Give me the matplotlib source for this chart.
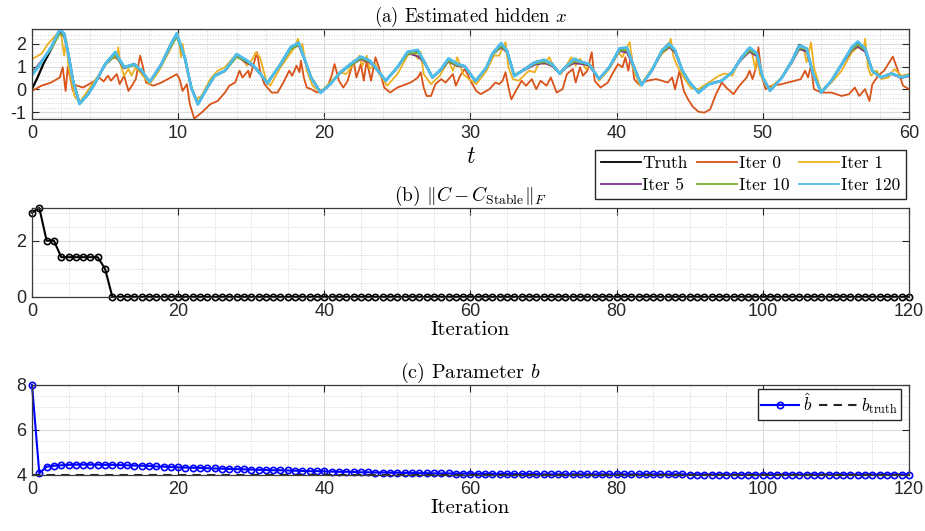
import numpy as np
import matplotlib
matplotlib.use('Agg')
import matplotlib.pyplot as plt
from matplotlib.ticker import MultipleLocator

plt.rcParams['mathtext.fontset'] = 'cm'
plt.rcParams['axes.unicode_minus'] = False
plt.rcParams['font.family'] = 'Liberation Sans'

# ---- (a) hidden state estimates ----
t_est = [0.0, 0.4, 0.8, 1.3, 1.9, 2.2, 2.45, 2.8, 3.25, 3.8, 4.3, 5.0, 5.7, 6.3, 7.0, 7.5, 8.05, 8.85, 9.4, 9.9,
         10.45, 10.9, 11.35, 12.0, 12.5, 13.2, 14.0, 14.6, 15.15, 15.6, 16.1, 17.0, 17.7, 18.25, 18.6, 19.1, 19.75,
         20.4, 21.1, 21.8, 22.5, 23.1, 23.4, 24.2, 25.0, 25.7, 26.4, 26.8, 27.4, 28.0, 28.5, 29.1, 29.6,
         30.35, 31.1, 31.5, 32.1, 32.5, 33.0, 33.7, 34.4, 35.05, 35.6, 36.1, 36.6, 37.1, 37.5, 38.1, 38.8, 39.5,
         40.2, 40.7, 41.2, 41.7, 42.4, 43.1, 43.6, 44.0, 44.5, 45.0, 45.6, 46.3, 47.2, 47.9, 48.55, 49.1, 49.6,
         50.0, 50.5, 51.3, 52.0, 52.5, 53.0, 53.45, 54.0, 54.7, 55.4, 56.1, 56.5, 57.0, 57.5, 58.1, 58.8, 59.5, 60.0]

x_truth = [0.02, 0.55, 1.15, 1.75, 2.62, 2.45, 1.70, 0.40, -0.63, -0.25, 0.25, 1.11, 1.63, 0.97, 1.11, 0.82, 0.30, 1.11, 1.85, 2.44,
           1.41, 0.08, -0.65, 0.08, 0.60, 0.82, 1.50, 1.30, 1.05, 0.70, 0.26, 1.11, 1.85, 2.03, 1.41, 0.52, -0.14,
           0.23, 0.75, 1.11, 1.41, 1.26, 1.04, 0.38, 0.97, 1.63, 1.70, 1.26, 0.52, 0.89, 1.34, 1.11, 1.02,
           0.35, 0.97, 1.56, 2.02, 1.70, 0.60, 0.89, 1.19, 1.29, 1.11, 0.70, 1.04, 1.34, 1.23, 1.11, 0.45, 0.97,
           1.78, 1.82, 0.97, 0.19, 0.82, 1.70, 2.02, 1.70, 0.82, 0.30, -0.14, 0.23, 0.38, 0.75, 1.41, 1.78, 1.56,
           0.52, -0.06, 0.52, 1.26, 1.95, 1.78, 0.67, -0.14, 0.38, 1.11, 1.85, 2.07, 1.78, 0.82, 0.52, 0.70, 0.52, 0.64]

x_iter5 = [0.75, 1.05, 1.38, 1.78, 2.50, 2.30, 1.65, 0.42, -0.60, -0.22, 0.27, 1.08, 1.48, 0.92, 1.08, 0.78, 0.33, 1.08, 1.78, 2.35,
           1.38, 0.08, -0.62, 0.09, 0.58, 0.80, 1.45, 1.20, 1.00, 0.68, 0.30, 1.08, 1.80, 1.92, 1.38, 0.52, -0.13,
           0.24, 0.73, 1.06, 1.32, 1.18, 1.00, 0.38, 0.95, 1.58, 1.45, 1.20, 0.53, 0.86, 1.22, 1.02, 1.00,
           0.38, 0.95, 1.52, 1.85, 1.62, 0.60, 0.85, 1.08, 1.15, 1.02, 0.70, 0.98, 1.15, 1.12, 1.05, 0.46, 0.95,
           1.68, 1.62, 0.96, 0.20, 0.80, 1.62, 1.85, 1.62, 0.82, 0.30, -0.12, 0.23, 0.38, 0.76, 1.32, 1.65, 1.45,
           0.52, -0.04, 0.50, 1.18, 1.78, 1.65, 0.68, -0.12, 0.38, 1.06, 1.72, 1.88, 1.65, 0.82, 0.52, 0.68, 0.50, 0.58]

x_iter10 = [0.72, 1.00, 1.35, 1.75, 2.45, 2.35, 1.70, 0.45, -0.58, -0.20, 0.28, 1.05, 1.50, 0.95, 1.05, 0.82, 0.35, 1.08, 1.75, 2.30,
            1.40, 0.10, -0.60, 0.10, 0.58, 0.80, 1.42, 1.25, 1.02, 0.70, 0.32, 1.05, 1.75, 1.95, 1.42, 0.55, -0.12,
            0.25, 0.72, 1.05, 1.35, 1.22, 1.02, 0.40, 0.95, 1.55, 1.60, 1.22, 0.55, 0.88, 1.25, 1.05, 1.02,
            0.40, 0.95, 1.50, 1.90, 1.65, 0.62, 0.88, 1.12, 1.20, 1.05, 0.72, 1.00, 1.22, 1.18, 1.08, 0.48, 0.95,
            1.70, 1.72, 0.98, 0.22, 0.82, 1.62, 1.90, 1.68, 0.85, 0.32, -0.10, 0.24, 0.40, 0.78, 1.35, 1.70, 1.52,
            0.55, -0.02, 0.52, 1.20, 1.82, 1.75, 0.70, -0.10, 0.40, 1.08, 1.75, 1.95, 1.72, 0.85, 0.55, 0.70, 0.52, 0.60]

x_iter120 = [0.62, 0.95, 1.35, 1.85, 2.63, 2.45, 1.68, 0.38, -0.64, -0.25, 0.26, 1.10, 1.64, 0.98, 1.10, 0.84, 0.32, 1.10, 1.84, 2.46,
             1.42, 0.06, -0.66, 0.08, 0.60, 0.82, 1.55, 1.32, 1.05, 0.71, 0.27, 1.10, 1.86, 2.05, 1.42, 0.50, -0.15,
             0.22, 0.75, 1.12, 1.44, 1.27, 1.05, 0.38, 0.97, 1.65, 1.73, 1.26, 0.52, 0.90, 1.36, 1.12, 1.02,
             0.36, 0.97, 1.57, 2.03, 1.70, 0.58, 0.88, 1.18, 1.30, 1.10, 0.70, 1.04, 1.34, 1.22, 1.12, 0.46, 0.97,
             1.80, 1.84, 0.96, 0.18, 0.83, 1.70, 2.00, 1.72, 0.82, 0.30, -0.14, 0.22, 0.38, 0.74, 1.40, 1.84, 1.58,
             0.52, -0.06, 0.50, 1.26, 1.92, 1.80, 0.66, -0.14, 0.38, 1.10, 1.86, 2.10, 1.80, 0.80, 0.52, 0.70, 0.53, 0.62]

t_iter1 = [0.0, 0.64, 1.1, 1.8, 2.0, 2.2, 2.35, 2.5, 2.9, 3.26, 3.8, 4.6, 5.2, 5.5, 5.8, 5.9, 6.05, 6.3, 6.6, 6.8,
           7.1, 7.5, 8.05, 8.7, 9.3, 9.75, 10.0, 10.2, 10.3, 10.55, 10.9, 11.2, 11.6, 12.2, 12.7, 13.2, 14.0, 14.3,
           14.7, 15.1, 15.3, 15.6, 16.0, 16.3, 17.0, 17.9, 18.2, 18.4, 18.5, 18.8, 19.2, 19.73, 20.5, 21.1, 21.5,
           22.0, 22.4, 22.6, 22.9, 23.1, 23.5, 23.7, 24.3, 25.0, 25.7, 26.1, 26.4, 26.6, 26.8, 27.3, 27.9, 28.5,
           28.8, 29.1, 29.5, 29.9, 30.4, 31.1, 31.6, 31.97, 32.2, 32.4, 32.6, 32.9, 33.3, 34.0, 34.4, 34.7, 35.05,
           35.4, 35.75, 36.2, 36.9, 37.2, 37.5, 37.9, 38.2, 38.8, 39.5, 40.1, 40.4, 40.6, 40.9, 41.1, 41.6, 42.4,
           43.1, 43.5, 43.7, 43.9, 44.2, 44.6, 45.1, 45.6, 46.3, 47.0, 47.4, 47.9, 48.3, 48.9, 49.2, 49.5, 49.6,
           49.8, 50.4, 51.3, 52.0, 52.4, 52.8, 53.0, 53.3, 53.5, 54.0, 54.7, 55.4, 56.1, 56.5, 56.9, 57.0, 57.2,
           57.4, 57.8, 58.1, 58.6, 59.0, 59.5, 60.0]
x_iter1 = [1.33, 1.56, 2.00, 2.50, 2.37, 1.48, 2.22, 0.97, -0.29, -0.58, -0.07, 0.67, 1.26, 1.41, 1.34, 1.85, 1.11, 0.60, 0.89, 0.60,
           0.97, 0.67, 0.23, 0.82, 1.56, 2.15, 2.44, 1.41, 2.00, 0.97, 0.01, -0.44, -0.29, 0.45, 0.82, 0.97, 1.56, 1.41,
           1.04, 1.34, 1.62, 1.41, 0.45, 0.16, 0.97, 1.78, 2.22, 1.70, 2.00, 0.82, 0.16, -0.14, 0.38, 0.75, 0.67,
           1.11, 1.48, 1.04, 1.48, 0.89, 1.11, 0.75, 0.16, 0.67, 1.48, 1.70, 1.34, 1.63, 0.67, 0.23, 0.60, 1.26,
           0.82, 1.41, 0.67, 0.45, 0.23, 0.82, 1.48, 1.48, 1.85, 2.07, 0.97, 0.45, 0.38, 0.82, 0.75, 1.19, 1.11,
           1.41, 0.89, 0.67, 1.41, 1.04, 1.34, 0.89, 1.11, 0.38, 0.89, 1.63, 1.41, 1.70, 2.07, 0.97, 0.16, 0.89,
           1.56, 1.78, 2.22, 1.41, 0.97, 0.52, 0.05, 0.01, 0.30, 0.60, 0.70, 0.60, 1.11, 1.70, 1.78, 0.89, 1.48,
           0.67, 0.01, 0.52, 1.26, 1.70, 1.78, 1.19, 2.07, 0.97, -0.14, 0.30, 0.82, 1.63, 1.85, 1.70, 2.22, 0.97,
           0.60, 0.82, 0.45, 0.52, 0.89, 0.60, 0.67]

t_iter0 = [0.0, 0.64, 1.3, 1.9, 2.1, 2.3, 2.45, 2.8, 3.0, 3.5, 3.9, 4.3, 4.6, 4.9, 5.2, 5.4, 5.8, 6.0, 6.3, 6.6,
           6.9, 7.1, 7.4, 7.6, 7.8, 8.3, 8.85, 9.5, 9.9, 10.1, 10.3, 10.6, 10.8, 11.1, 11.6, 12.2, 12.7, 13.2, 13.5,
           13.9, 14.2, 14.4, 14.8, 14.9, 15.4, 15.6, 15.9, 16.4, 16.8, 17.2, 17.6, 17.8, 18.1, 18.3, 18.4, 18.6,
           18.8, 19.1, 19.5, 20.2, 20.5, 20.7, 21.0, 21.3, 21.6, 22.0, 22.2, 22.5, 22.7, 22.9, 23.2, 23.5, 23.7,
           24.1, 24.5, 25.0, 25.6, 25.9, 26.1, 26.4, 26.6, 26.8, 27.0, 27.3, 27.6, 28.0, 28.3, 28.8, 29.0, 29.3,
           29.6, 29.8, 30.0, 30.4, 30.7, 31.3, 31.7, 31.97, 32.2, 32.4, 32.6, 32.8, 33.1, 33.5, 33.8, 34.2, 34.5,
           34.8, 35.2, 35.5, 35.9, 36.3, 36.6, 37.0, 37.2, 37.5, 37.7, 38.0, 38.3, 38.5, 38.9, 39.4, 39.7, 40.1,
           40.4, 40.6, 40.8, 41.0, 41.2, 41.5, 42.1, 42.7, 43.1, 43.5, 43.8, 44.0, 44.3, 44.6, 44.9, 45.2, 45.6,
           46.0, 46.4, 46.8, 47.2, 47.5, 48.0, 48.4, 48.9, 49.1, 49.3, 49.6, 49.7, 49.95, 50.2, 50.6, 51.3, 51.7,
           52.2, 52.6, 52.9, 53.1, 53.3, 53.5, 54.0, 54.7, 55.4, 55.9, 56.3, 56.6, 57.0, 57.3, 57.5, 57.9, 58.3,
           58.9, 59.25, 59.6, 60.0]
x_iter0 = [-0.07, 0.16, 0.30, 0.52, 0.97, -0.07, 1.00, -0.07, 0.18, 0.08, 0.23, 0.38, 0.52, 0.35, 0.60, 0.38, 0.67, 0.23, 0.60, -0.07,
           0.23, 0.45, 1.48, 0.97, 0.30, 0.16, 0.30, 0.52, 0.67, 0.45, -0.07, 0.23, -0.65, -1.28, -1.02, -0.65, -0.51, -0.14, 0.16,
           0.30, 0.82, 0.52, 0.82, 0.52, 1.63, 0.82, 0.23, -0.14, -0.14, 0.30, 0.82, 0.60, 1.04, 0.75, 1.26, 0.52,
           0.08, 0.01, -0.14, 0.08, 0.60, 1.11, 0.38, 0.08, 0.38, 1.26, 0.52, 1.11, 0.38, 1.26, 0.38, 1.41, 1.04,
           0.08, -0.14, 0.08, 0.23, 0.30, 0.38, 0.52, 0.75, 0.08, -0.29, -0.29, 0.23, 0.45, 0.30, 0.67, 0.16, 0.60,
           0.89, 0.67, 0.38, -0.07, -0.21, 0.01, 0.30, 0.23, 0.38, 0.75, 0.08, -0.44, -0.07, 0.38, 0.16, 0.45, 0.01,
           0.38, 0.16, 0.52, -0.14, 0.01, 0.67, 0.89, 0.30, 0.97, 0.60, 0.82, 1.63, 0.38, 0.08, 0.30, 0.67, 1.11,
           0.97, 1.41, 0.82, 1.56, 0.45, 0.23, 0.38, 0.45, 0.38, 0.30, 0.52, 0.01, 0.82, -0.07, -0.45, -0.75, -0.98,
           -1.02, -0.88, -0.21, 0.30, 0.08, -0.21, 0.16, 0.52, 0.82, 0.45, 1.11, 1.85, 0.52, 0.01, 0.16, 0.23, 0.30,
           0.38, 0.45, 0.82, 0.52, 1.04, 0.01, -0.14, -0.14, -0.29, -0.21, 0.08, -0.29, 0.01, -0.51, 0.23, 0.60, 0.82,
           1.44, 0.82, 0.16, 0.01]

# ---- (b) distance to the stable C, per iteration ----
c_dist = [3.0, 3.162, 2.0, 2.0, 1.414, 1.414, 1.414, 1.414, 1.414, 1.414, 1.0] + [0.0] * 110

# ---- (c) estimated b, per iteration ----
b_hat = [8.00, 4.07, 4.37, 4.41, 4.43, 4.45, 4.46, 4.46, 4.46, 4.46,
         4.45, 4.45, 4.44, 4.43, 4.42, 4.41, 4.40, 4.38, 4.37, 4.35,
         4.34, 4.33, 4.32, 4.31, 4.30, 4.29, 4.28, 4.27, 4.26, 4.25,
         4.24, 4.23, 4.22, 4.21, 4.21, 4.20, 4.19, 4.18, 4.17, 4.17,
         4.16, 4.15, 4.14, 4.14, 4.13, 4.12, 4.12, 4.11, 4.11, 4.10,
         4.10, 4.09, 4.09, 4.08, 4.08, 4.07, 4.07, 4.07, 4.06, 4.06,
         4.06, 4.05, 4.05, 4.05, 4.05, 4.04, 4.04, 4.04, 4.04, 4.04,
         4.03, 4.03, 4.03, 4.03, 4.03, 4.03, 4.03, 4.03, 4.03, 4.03,
         4.03, 4.03, 4.03, 4.03, 4.03, 4.03, 4.03, 4.03, 4.03, 4.03,
         4.02, 4.02, 4.02, 4.02, 4.02, 4.02, 4.02, 4.02, 4.02, 4.02,
         4.02, 4.02, 4.02, 4.02, 4.02, 4.02, 4.02, 4.02, 4.02, 4.02,
         4.02, 4.02, 4.02, 4.02, 4.02, 4.02, 4.02, 4.02, 4.02, 4.02, 4.02]
b_truth = 4.0
iters = np.arange(len(b_hat))

serif = 'cmr10'
txt_color = '#262626'


def style_axes(ax):
    ax.grid(True, which='major', color='#dcdcdc', linewidth=0.8)
    ax.grid(True, which='minor', color='#d2d2d2', linestyle=':', linewidth=0.7)
    ax.set_axisbelow(True)
    ax.tick_params(which='major', direction='in', top=True, right=True, length=5,
                   labelsize=13, colors=txt_color, pad=4)
    ax.tick_params(which='minor', length=0)
    for s in ax.spines.values():
        s.set_color('#3a3a3a')
        s.set_linewidth(0.9)


fig = plt.figure(figsize=(9.25, 5.31), dpi=100)

ax1 = fig.add_axes([0.0346, 0.7759, 0.948, 0.1695])
h_truth, = ax1.plot(t_est, x_truth, color='black', linewidth=1.6, label='Truth')
h0, = ax1.plot(t_iter0, x_iter0, color='#D95319', linewidth=1.3, label='Iter 0')
h1, = ax1.plot(t_iter1, x_iter1, color='#EDB120', linewidth=1.3, label='Iter 1')
h5, = ax1.plot(t_est, x_iter5, color='#7E2F8E', linewidth=1.3, label='Iter 5')
h10, = ax1.plot(t_est, x_iter10, color='#77AC30', linewidth=1.3, label='Iter 10')
h120, = ax1.plot(t_est, x_iter120, color='#4DBEEE', linewidth=2.0, label='Iter 120')
ax1.set_xlim(0, 60)
ax1.set_ylim(-1.3, 2.65)
ax1.xaxis.set_major_locator(MultipleLocator(10))
ax1.xaxis.set_minor_locator(MultipleLocator(2))
ax1.yaxis.set_major_locator(MultipleLocator(1))
ax1.yaxis.set_minor_locator(MultipleLocator(0.2))
style_axes(ax1)
ax1.set_title('(a) Estimated hidden $x$', fontfamily=serif, fontsize=13.5, pad=5)
ax1.set_xlabel('$t$', fontsize=17, labelpad=3)

# legend is filled column by column, so order handles to read row-wise
leg_order = [h_truth, h5, h0, h10, h1, h120]
leg1 = ax1.legend(leg_order, [h.get_label() for h in leg_order], ncol=3, loc='upper right',
                  bbox_to_anchor=(906 / 925, 1 - 150 / 531), bbox_transform=fig.transFigure,
                  prop={'family': serif, 'size': 12.5}, frameon=True, fancybox=False,
                  edgecolor='#262626', framealpha=1, handlelength=2.3, handletextpad=0.1,
                  columnspacing=0.55, labelspacing=0.35, borderpad=0.35, borderaxespad=0)
for line in leg1.get_lines():
    line.set_linewidth(1.3)

ax2 = fig.add_axes([0.0346, 0.4407, 0.948, 0.1676])
ax2.plot(iters, c_dist, 'o-', color='black', markerfacecolor='none',
         markersize=4.5, markeredgewidth=1.2, linewidth=1.5, clip_on=False)
ax2.set_xlim(0, 120)
ax2.set_ylim(0, max(c_dist))
ax2.set_yticks([0, 2])
ax2.xaxis.set_major_locator(MultipleLocator(20))
ax2.xaxis.set_minor_locator(MultipleLocator(5))
ax2.yaxis.set_minor_locator(MultipleLocator(0.5))
style_axes(ax2)
ax2.set_title(r'(b) $\Vert C - C_{\mathrm{Stable}}\Vert_F$', fontfamily=serif, fontsize=14, pad=5)
ax2.set_xlabel('Iteration', fontfamily=serif, fontsize=15, labelpad=1)

ax3 = fig.add_axes([0.0346, 0.1055, 0.948, 0.1695])
ax3.plot(iters, b_hat, 'o-', color='#0000FF', markerfacecolor='none',
         markersize=4.5, markeredgewidth=1.2, linewidth=1.5, clip_on=False, label=r'$\hat{b}$')
ax3.plot(iters, [b_truth] * len(iters), '--', color='#262626', linewidth=1.5,
         dashes=(4, 3), label=r'$b_{\mathrm{truth}}$')
ax3.set_xlim(0, 120)
ax3.set_ylim(4, 8)
ax3.set_yticks([4, 6, 8])
ax3.xaxis.set_major_locator(MultipleLocator(20))
ax3.xaxis.set_minor_locator(MultipleLocator(5))
ax3.yaxis.set_minor_locator(MultipleLocator(0.5))
style_axes(ax3)
ax3.set_title('(c) Parameter $b$', fontfamily=serif, fontsize=14.5, pad=5)
ax3.set_xlabel('Iteration', fontfamily=serif, fontsize=15, labelpad=1)
ax3.legend(ncol=2, loc='upper right', bbox_to_anchor=(901 / 925, 1 - 389 / 531),
           bbox_transform=fig.transFigure, prop={'family': serif, 'size': 12.5},
           frameon=True, fancybox=False, edgecolor='#262626', framealpha=1,
           handlelength=2.2, handletextpad=0.2, columnspacing=0.4, borderpad=0.2,
           borderaxespad=0, numpoints=1)

fig.savefig('out.png', dpi=100)
